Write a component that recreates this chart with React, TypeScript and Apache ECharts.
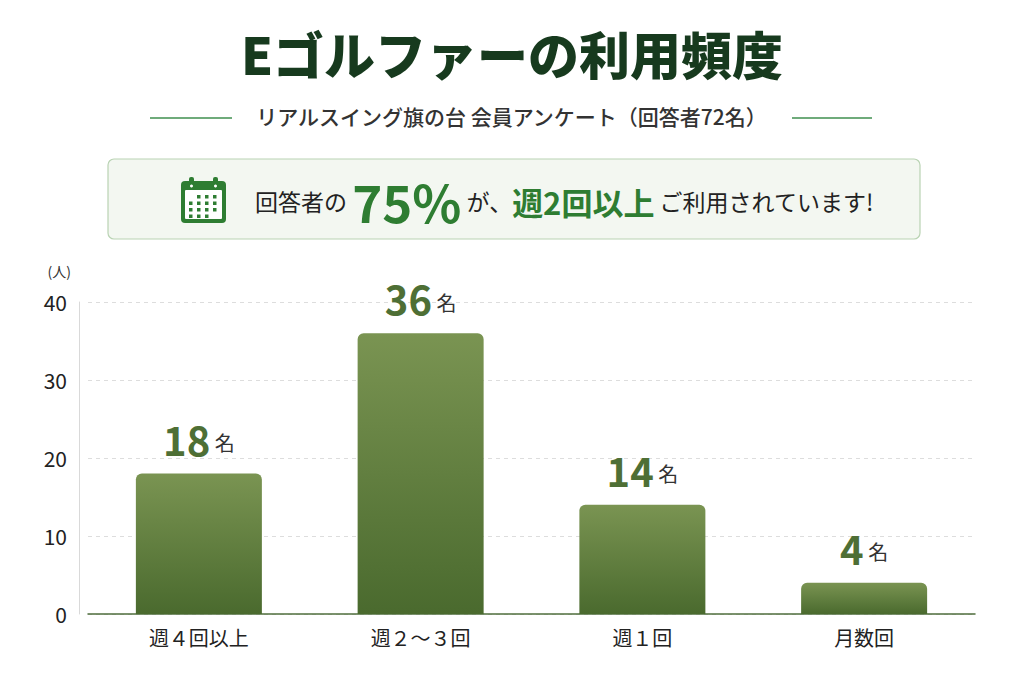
import React, { useEffect, useRef } from "react";
import * as echarts from "echarts";

const categories = ["週４回以上", "週２〜３回", "週１回", "月数回"];
const counts = [18, 36, 14, 4];
const yTicks = [0, 10, 20, 30, 40];

const FONT = '"Noto Sans CJK JP", "Noto Sans", sans-serif';

export default function App() {
  const ref = useRef<HTMLDivElement>(null);
  useEffect(() => {
    document.body.style.margin = "0";
    const chart = echarts.init(ref.current!, null, { renderer: "svg" });
    const green = "#2e7d32";
    const dots: any[] = [];
    const rows = [
      [1, 2, 3],
      [0, 1, 2, 3],
      [0, 1, 2, 3],
      [0, 1, 2],
    ];
    rows.forEach((r, ri) =>
      r.forEach((ci) =>
        dots.push({
          type: "rect",
          shape: { x: 189 + ci * 8, y: 195 + ri * 6.5, width: 3.5, height: 3.5 },
          style: { fill: green },
        })
      )
    );
    chart.setOption({
      animation: false,
      backgroundColor: "#ffffff",
      textStyle: { fontFamily: FONT },
      grid: { left: 88, right: 49, top: 302, bottom: 69 },
      xAxis: {
        type: "category",
        data: categories,
        axisLine: { lineStyle: { color: "#4f6e3c", width: 1.5 } },
        axisTick: { show: false },
        axisLabel: { color: "#222", fontSize: 20, margin: 13, fontFamily: FONT },
      },
      yAxis: {
        type: "value",
        min: yTicks[0],
        max: yTicks[yTicks.length - 1],
        interval: 10,
        offset: 9,
        name: "(人)",
        nameLocation: "end",
        nameGap: 24,
        nameTextStyle: { color: "#333", fontSize: 14, align: "right", padding: [0, 8, 0, 0] },
        axisLine: { show: true, lineStyle: { color: "#d9d9d9" } },
        axisTick: { show: false },
        axisLabel: { color: "#222", fontSize: 21, margin: 12, fontFamily: FONT },
        splitLine: { lineStyle: { color: "#dddddd", type: [4, 4] } },
      },
      series: [
        {
          type: "bar",
          data: counts,
          barWidth: 126,
          itemStyle: {
            borderRadius: [6, 6, 0, 0],
            color: new echarts.graphic.LinearGradient(0, 0, 0, 1, [
              { offset: 0, color: "#7a9452" },
              { offset: 1, color: "#4a6a2e" },
            ]),
          },
          label: {
            show: true,
            position: "top",
            distance: 15,
            formatter: "{v|{c}}{u| 名}",
            rich: {
              v: { fontSize: 40, fontWeight: "bold", color: "#4e6f35", fontFamily: FONT },
              u: { fontSize: 20, color: "#333", fontFamily: FONT, padding: [8, 0, 0, 0] },
            },
          },
        },
      ],
      graphic: [
        {
          type: "text",
          left: "center",
          top: 27,
          style: {
            text: "Eゴルファーの利用頻度",
            font: `900 51px ${FONT}`,
            fill: "#173a1e",
          },
        },
        {
          type: "text",
          left: "center",
          top: 105,
          style: {
            text: "リアルスイング旗の台 会員アンケート（回答者72名）",
            font: `500 21px ${FONT}`,
            fill: "#333",
          },
        },
        { type: "line", shape: { x1: 150, y1: 118, x2: 232, y2: 118 }, style: { stroke: "#3f8f4f", lineWidth: 1.5 } },
        { type: "line", shape: { x1: 792, y1: 118, x2: 872, y2: 118 }, style: { stroke: "#3f8f4f", lineWidth: 1.5 } },
        {
          type: "rect",
          shape: { x: 108, y: 159, width: 812, height: 80, r: 6 },
          style: { fill: "#f3f7f1", stroke: "#b9d3b3", lineWidth: 1.2 },
        },
        {
          type: "group",
          children: [
            { type: "rect", shape: { x: 181, y: 181, width: 45, height: 42, r: 4 }, style: { fill: green } },
            { type: "rect", shape: { x: 185, y: 190, width: 37, height: 29, r: 1 }, style: { fill: "#ffffff" } },
            { type: "rect", shape: { x: 189, y: 177, width: 5, height: 9, r: 2 }, style: { fill: green } },
            { type: "rect", shape: { x: 213, y: 177, width: 5, height: 9, r: 2 }, style: { fill: green } },
            { type: "circle", shape: { cx: 191.5, cy: 186, r: 1.5 }, style: { fill: "#ffffff" } },
            { type: "circle", shape: { cx: 215.5, cy: 186, r: 1.5 }, style: { fill: "#ffffff" } },
            ...dots,
          ],
        },
        {
          type: "text",
          x: 255,
          y: 201,
          style: {
            text: "{a|回答者の }{b|75%}{a| が、}{c|週2回以上}{a| ご利用されています!}",
            verticalAlign: "middle",
            rich: {
              a: { fontSize: 23, fill: "#222", fontFamily: FONT },
              b: { fontSize: 51, fontWeight: "bold", fill: green, fontFamily: FONT },
              c: { fontSize: 31, fontWeight: "bold", fill: green, fontFamily: FONT },
            },
          },
        },
      ],
    });
    return () => chart.dispose();
  }, []);
  return <div ref={ref} style={{ width: 1024, height: 683 }} />;
}
